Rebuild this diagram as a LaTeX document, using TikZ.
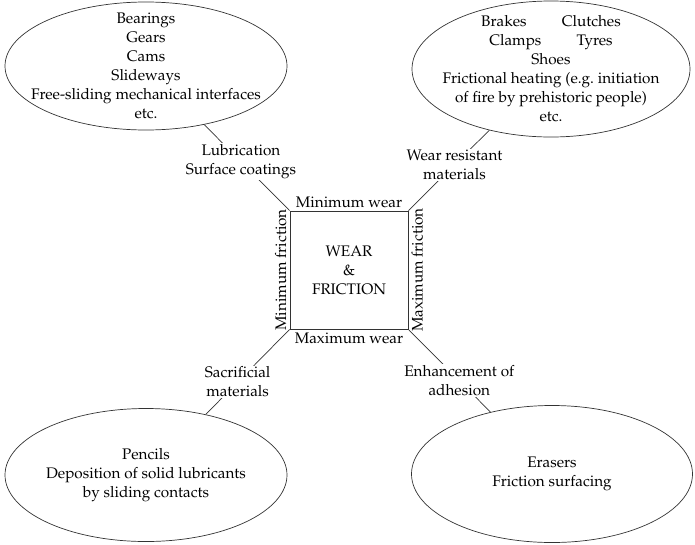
\documentclass[tikz,border=0pt]{standalone}
\usepackage[T1]{fontenc}
\usepackage{mathpazo}
\usepackage{tikz}
\usetikzlibrary{positioning, shapes.geometric}

\tikzset{
    usecase/.style={ellipse, draw=black!80, line width=0.7pt, inner xsep=-30pt, inner ysep=-25pt, align=center},
    link/.style={draw=black!80, line width=0.7pt},
    means/.style={fill=white, inner sep=1pt, align=center},
    edgetext/.style={inner sep=3pt}
}

\begin{document}
\begin{tikzpicture}[x=1pt, y=-1pt, font=\fontsize{15.3}{19}\selectfont]
    \useasboundingbox (0,0) rectangle (695,544);

    % Central box
    \node[draw=black!80, line width=0.8pt, minimum size=118pt, inner sep=0pt, align=center] (wf) at (349,270) {WEAR\\\&\\FRICTION};

    % Labels on the four sides of the box
    \node[edgetext, anchor=south] (minwear) at (wf.north) {Minimum wear};
    \node[edgetext, anchor=north] (maxwear) at (wf.south) {Maximum wear};
    \node[edgetext, rotate=90, anchor=south] (minfric) at (wf.west) {Minimum friction};
    \node[edgetext, rotate=90, anchor=north] (maxfric) at (wf.east) {Maximum friction};

    % Applications in the four corners
    \node[usecase, minimum width=282pt, minimum height=128pt] (lowlow) at (146,66)
        {Bearings\\Gears\\Cams\\Slideways\\Free-sliding mechanical interfaces\\etc.};
    \node[usecase, minimum width=278pt, minimum height=136pt] (lowhigh) at (551,69)
        {Brakes\hspace{2.3em}Clutches\\Clamps\hspace{2.3em}Tyres\\Shoes\\Frictional heating (e.g.\ initiation\\of fire by prehistoric people)\\etc.};
    \node[usecase, minimum width=282pt, minimum height=133pt] (highlow) at (146,475)
        {Pencils\\Deposition of solid lubricants\\by sliding contacts};
    \node[usecase, minimum width=281pt, minimum height=137pt] (highhigh) at (552,474)
        {Erasers\\Friction surfacing};

    % Connectors with the means written on them
    \draw[link] (wf.north west) -- node[means, pos=0.57] (lub) {Lubrication\\Surface coatings} (lowlow);
    \draw[link] (wf.north east) -- node[means, pos=0.57] (wrm) {Wear resistant\\materials} (lowhigh);
    \draw[link] (wf.south west) -- node[means, pos=0.62] (sac) {Sacrificial\\materials} (highlow);
    \draw[link] (wf.south east) -- node[means, pos=0.62] (adh) {Enhancement of\\adhesion} (highhigh);
\end{tikzpicture}
\end{document}
